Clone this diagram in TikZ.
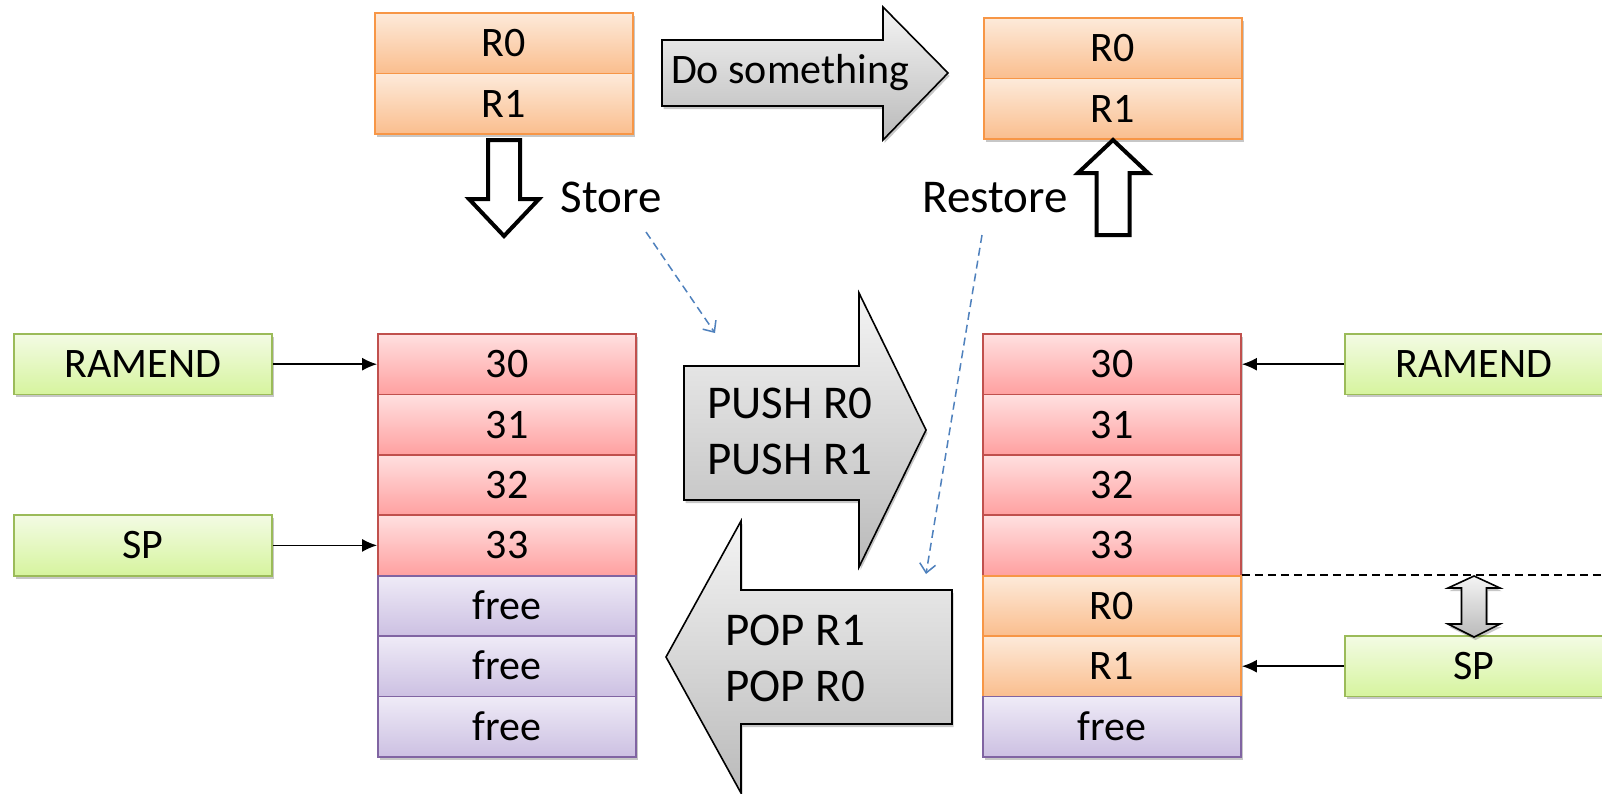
\documentclass[tikz,border=0pt]{standalone}
\usepackage{fontspec}
\setmainfont{Carlito}
\usetikzlibrary{arrows.meta,shadows}

\definecolor{redtop}{RGB}{255,224,224}
\definecolor{redbot}{RGB}{255,160,160}
\definecolor{redline}{RGB}{192,80,77}
\definecolor{ortop}{RGB}{253,234,218}
\definecolor{orbot}{RGB}{250,190,142}
\definecolor{orline}{RGB}{247,150,70}
\definecolor{putop}{RGB}{239,235,247}
\definecolor{pubot}{RGB}{204,192,226}
\definecolor{puline}{RGB}{128,100,162}
\definecolor{grtop}{RGB}{243,251,228}
\definecolor{grbot}{RGB}{214,244,158}
\definecolor{grline}{RGB}{155,187,89}
\definecolor{gytop}{RGB}{244,244,244}
\definecolor{gybot}{RGB}{186,186,186}
\definecolor{bluedash}{RGB}{79,129,189}

\tikzset{
  shad/.style={drop shadow={shadow xshift=1.5pt,shadow yshift=-3pt,opacity=0.22,fill=black}},
  cell/.style={rectangle, minimum width=258pt, minimum height=60.4pt, inner sep=0pt,
    line width=1.8pt, font=\fontsize{42}{50}\selectfont, text height=27pt, text depth=0pt, shad},
  redcell/.style={cell, draw=redline, top color=redtop, bottom color=redbot},
  orcell/.style={cell, draw=orline, top color=ortop, bottom color=orbot},
  pucell/.style={cell, draw=puline, top color=putop, bottom color=pubot},
  grcell/.style={cell, draw=grline, top color=grtop, bottom color=grbot},
  gyarrow/.style={draw=black, line width=1.6pt, line join=miter, top color=gytop, bottom color=gybot, shad},
  whitearrow/.style={draw=black, line width=4pt, line join=miter, fill=white},
  bigtxt/.style={inner sep=0pt, font=\fontsize{47}{56}\selectfont, align=left},
  midtxt/.style={inner sep=0pt, font=\fontsize{42}{50}\selectfont},
  conn/.style={line width=1.6pt, -{Latex[length=15pt,width=13pt]}},
  bluearr/.style={line width=1.5pt, draw=bluedash, dash pattern=on 8pt off 5pt, -{Straight Barb[length=9pt,width=16pt]}},
  blackdash/.style={line width=2pt, dash pattern=on 8pt off 5pt}
}

\begin{document}
\begin{tikzpicture}[x=1pt,y=-1pt]
\useasboundingbox (0,0) rectangle (1602,793);
\fill[white] (0,0) rectangle (1602,793);

% top stacks
\node[orcell, minimum height=60.5pt] (TL0) at (504,43.25) {R0};
\node[orcell, minimum height=60.5pt] (TL1) at (504,103.75) {R1};
\node[orcell, minimum height=60.5pt] (TR0) at (1113,48.25) {R0};
\node[orcell, minimum height=60.5pt] (TR1) at (1113,108.75) {R1};

% Do something arrow
\path[gyarrow] (662,40) -- (883,40) -- (883,7) -- (948,73) -- (883,140) -- (883,106) -- (662,106) -- cycle;
\node[midtxt] (dotxt) at (790,73) {Do something};

% store / restore block arrows
\path[whitearrow] (488,140) -- (520,140) -- (520,199) -- (539,199) -- (504,236) -- (469,199) -- (488,199) -- cycle;
\path[whitearrow] (1096.5,235) -- (1129.5,235) -- (1129.5,173) -- (1148,173) -- (1113,140) -- (1078,173) -- (1096.5,173) -- cycle;
\node[bigtxt, text height=30pt, text depth=0pt] (store) at (611,197) {Store};
\node[bigtxt, text height=30pt, text depth=0pt] (restore) at (995,197) {Restore};

% dashed hints
\coordinate (s1) at (646,232);
\coordinate (e1) at (715,333);
\coordinate (s2) at (982,235);
\coordinate (e2) at (926,574);
\draw[bluearr] (s1) -- (e1);
\draw[bluearr] (s2) -- (e2);

% left stack
\node[redcell] (L0) at (507,364.2) {30};
\node[redcell] (L1) at (507,424.6) {31};
\node[redcell] (L2) at (507,485.0) {32};
\node[redcell] (L3) at (507,545.4) {33};
\node[pucell] (L4) at (507,605.8) {free};
\node[pucell] (L5) at (507,666.2) {free};
\node[pucell] (L6) at (507,726.6) {free};

% right stack
\node[redcell] (R0) at (1112,364.2) {30};
\node[redcell] (R1) at (1112,424.6) {31};
\node[redcell] (R2) at (1112,485.0) {32};
\node[redcell] (R3) at (1112,545.4) {33};
\node[orcell] (R4) at (1112,605.8) {R0};
\node[orcell] (R5) at (1112,666.2) {R1};
\node[pucell] (R6) at (1112,726.6) {free};

% pointer boxes
\node[grcell] (ramL) at (143,364.2) {RAMEND};
\node[grcell] (spL) at (143,545.4) {SP};
\node[grcell] (ramR) at (1474,364.2) {RAMEND};
\node[grcell] (spR) at (1474,666.2) {SP};

\draw[conn] (ramL) -- (L0);
\draw[conn] (spL) -- (L3);
\draw[conn] (ramR) -- (R0);
\draw[conn] (spR) -- (R5);

% push / pop arrows
\path[gyarrow] (684,366) -- (859,366) -- (859,293) -- (926,430) -- (859,567) -- (859,500) -- (684,500) -- cycle;
\node[bigtxt, anchor=north west] (push) at (707,388) {PUSH R0\\PUSH R1};
\path[gyarrow] (952,590) -- (741,590) -- (741,521) -- (666,657) -- (741,793) -- (741,724) -- (952,724) -- cycle;
\node[bigtxt, anchor=north west] (pop) at (725,615) {POP R1\\POP R0};

% SP movement
\coordinate (dashend) at (1602,575.6);
\draw[blackdash] (R4.north east) -- (R4.north east -| dashend);
\path[gyarrow] (1461.5,588) -- (1448,588) -- (1474,576) -- (1500,588) -- (1486.5,588) -- (1486.5,624) -- (1500,624) -- (1474,637) -- (1448,624) -- (1461.5,624) -- cycle;
\end{tikzpicture}
\end{document}
